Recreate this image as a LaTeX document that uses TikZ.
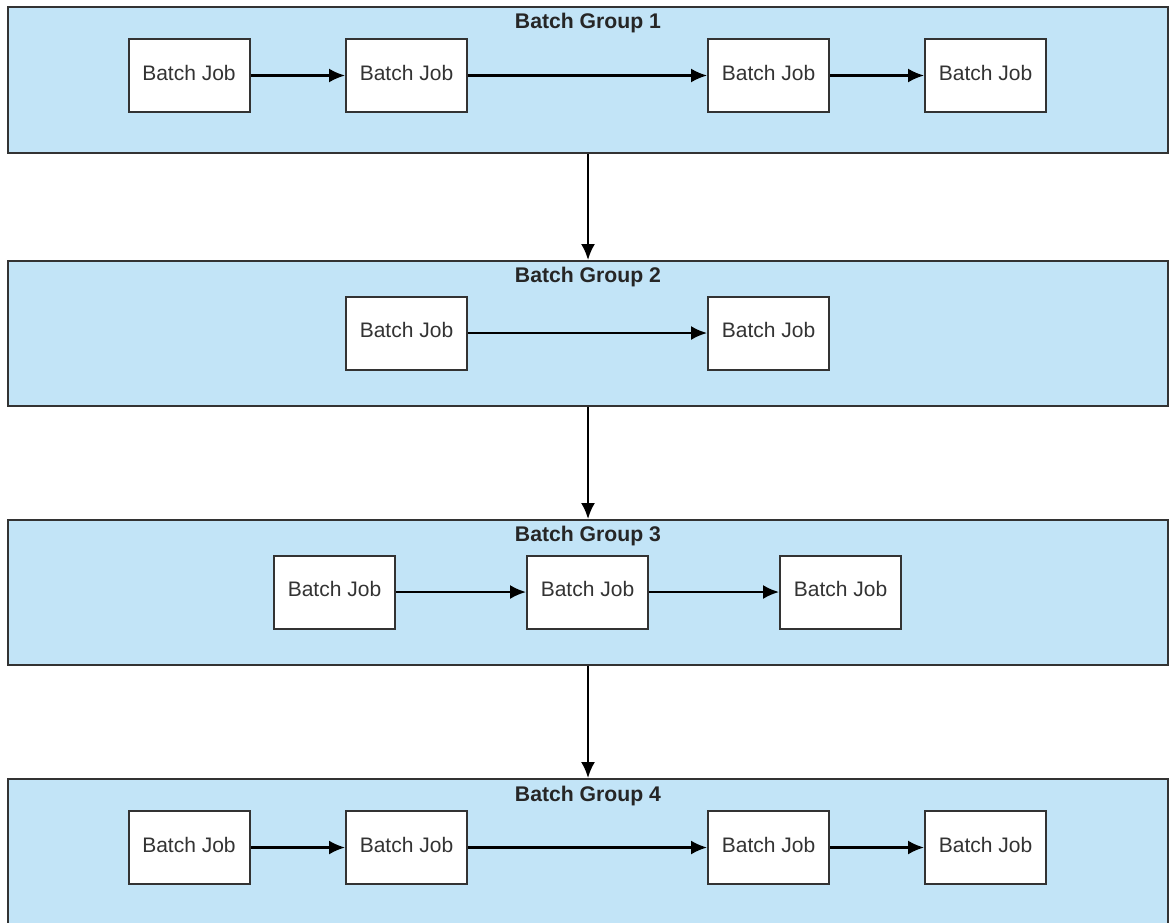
\documentclass[tikz,border=0pt]{standalone}
\usepackage{fontspec}
\setmainfont{Liberation Sans}
\usetikzlibrary{arrows.meta}
\definecolor{grpfill}{HTML}{C2E4F7}
\definecolor{edge}{HTML}{333333}
\tikzset{
  group/.style={draw=edge, line width=1pt, fill=grpfill, minimum width=580pt, inner sep=0pt},
  job/.style={draw=edge, line width=1pt, fill=white, minimum width=60.5pt, minimum height=36.5pt, inner sep=0pt, text=edge, font=\fontsize{10.5}{12}\selectfont},
  jobtext/.style={inner sep=0pt, text=edge, font=\fontsize{10.5}{12}\selectfont},
  gtitle/.style={font=\bfseries\fontsize{10.6}{12}\selectfont, text=black!85, inner sep=0pt},
  flow/.style={draw=black, line width=1.1pt, -{Latex[length=8pt,width=7pt]}}
}
\begin{document}
\begin{tikzpicture}[x=0.5pt,y=-0.5pt]
\useasboundingbox (0,0) rectangle (1170,922);
\clip (0,0) rectangle (1170,922);
% groups
\node[group, minimum height=73pt] (g1) at (588,80) {};
\node[group, minimum height=72.5pt] (g2) at (588,333.5) {};
\node[group, minimum height=72.5pt] (g3) at (588,592.5) {};
\node[group, minimum height=73pt] (g4) at (588,852) {};
% titles
\node[gtitle] (t1) at (588,23) {Batch Group 1};
\node[gtitle] (t2) at (588,277) {Batch Group 2};
\node[gtitle] (t3) at (588,536) {Batch Group 3};
\node[gtitle] (t4) at (588,796) {Batch Group 4};
% group 1 jobs
\node[job] (a1) at (189,75.5) {};
\node[job] (a2) at (406.5,75.5) {};
\node[job] (a3) at (768.5,75.5) {};
\node[job] (a4) at (985.5,75.5) {};
% group 2 jobs
\node[job] (b1) at (406.5,333) {};
\node[job] (b2) at (768.5,333) {};
% group 3 jobs
\node[job] (c1) at (334.5,592) {};
\node[job] (c2) at (587.5,592) {};
\node[job] (c3) at (840.5,592) {};
% group 4 jobs
\node[job] (d1) at (189,847.5) {};
\node[job] (d2) at (406.5,847.5) {};
\node[job] (d3) at (768.5,847.5) {};
\node[job] (d4) at (985.5,847.5) {};
% job labels (slightly above centre, as in the reference)
\foreach \n in {a1,a2,a3,a4,b1,b2,c1,c2,c3,d1,d2,d3,d4}
  \node[jobtext] (\n-label) at ([yshift=1.5pt]\n.center) {Batch Job};
% connectors
\draw[flow] (a1) -- (a2);
\draw[flow] (a2) -- (a3);
\draw[flow] (a3) -- (a4);
\draw[flow] (b1) -- (b2);
\draw[flow] (c1) -- (c2);
\draw[flow] (c2) -- (c3);
\draw[flow] (d1) -- (d2);
\draw[flow] (d2) -- (d3);
\draw[flow] (d3) -- (d4);
\draw[flow] (g1.south) -- (g2.north);
\draw[flow] (g2.south) -- (g3.north);
\draw[flow] (g3.south) -- (g4.north);
\end{tikzpicture}
\end{document}
